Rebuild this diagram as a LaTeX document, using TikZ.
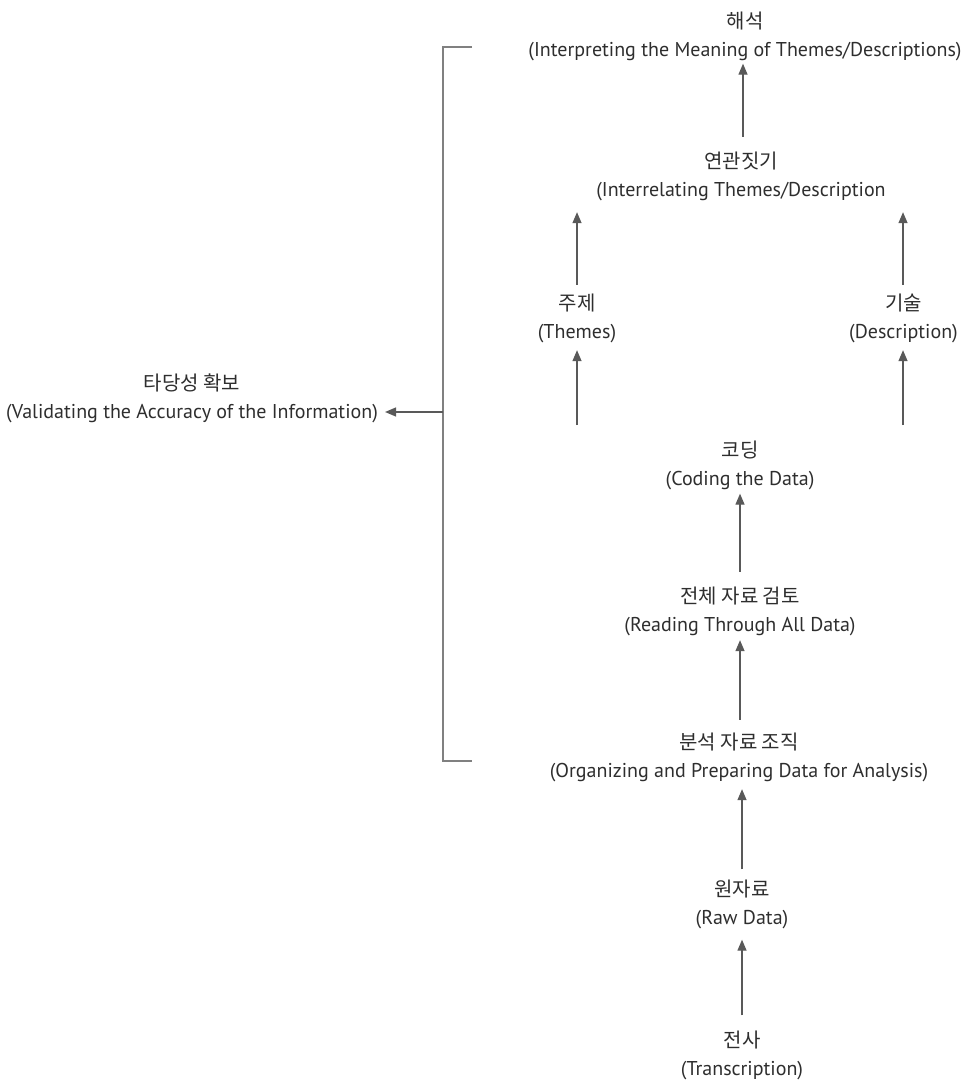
\documentclass[tikz,border=0pt]{standalone}
\usepackage{fontspec}
\setmainfont{PT Sans}
\newfontfamily\kr{Noto Sans CJK KR}
\usetikzlibrary{arrows.meta}
\begin{document}
\begin{tikzpicture}[x=1pt,y=-1pt,
  lbl/.style={align=center, inner sep=0pt, text=black!82,
    font=\fontsize{20}{28}\selectfont},
  arr/.style={draw=black!65, line width=1.3pt,
    -{Triangle[length=11pt,width=9pt]}},
  brk/.style={draw=black!50, line width=1.8pt}]
\useasboundingbox (0,0) rectangle (970,1083);

% stages of the analysis, bottom to top
\node[lbl] (trans)  at (742,1055)  {{\kr 전사}\\(Transcription)};
\node[lbl] (raw)    at (742,904)   {{\kr 원자료}\\(Raw Data)};
\node[lbl] (org)    at (739,757.5) {{\kr 분석 자료 조직}\\(Organizing and Preparing Data for Analysis)};
\node[lbl] (read)   at (740,611.5) {{\kr 전체 자료 검토}\\(Reading Through All Data)};
\node[lbl] (coding) at (740,465)   {{\kr 코딩}\\(Coding the Data)};
\node[lbl] (themes) at (577,318.5) {{\kr 주제}\\(Themes)};
\node[lbl] (desc)   at (903.5,318.5) {{\kr 기술}\\(Description)};
\node[lbl] (relate) at (741,176.5) {{\kr 연관짓기}\\(Interrelating Themes/Description};
\node[lbl] (interp) at (745,36)  {{\kr 해석}\\(Interpreting the Meaning of Themes/Descriptions)};
\node[lbl] (valid)  at (192,398)   {{\kr 타당성 확보}\\(Validating the Accuracy of the Information)};

% upward flow
\draw[arr, shorten <=15pt, shorten >=11pt] (trans.north) -- (trans.north |- raw.south);
\draw[arr, shorten <=10pt, shorten >=7pt]  (raw.north) -- (raw.north |- org.south);
\draw[arr, shorten <=13pt, shorten >=4pt]  (org.north -| read.south) -- (read.south);
\draw[arr, shorten <=15pt, shorten >=4pt]  (read.north -| coding.south) -- (coding.south);

\coordinate (splitL) at (577,425);
\coordinate (splitR) at (903,425);
\draw[arr, shorten >=7pt] (splitL) -- (splitL |- themes.south);
\draw[arr, shorten >=7pt] (splitR) -- (splitR |- desc.south);

\draw[arr, shorten <=9pt, shorten >=11pt] (themes.north) -- (themes.north |- relate.south);
\draw[arr, shorten <=9pt, shorten >=11pt] (desc.north -| splitR) -- (splitR |- relate.south);
\draw[arr, shorten <=15pt, shorten >=3pt] (relate.north -| 743,0) -- (interp.south -| 743,0);

% bracket spanning the analysis steps, pointing to validation
\draw[brk] (472,47) -- (443,47) -- (443,761) -- (472,761);
\coordinate (brmid) at (443,412);
\draw[arr, shorten >=7pt] (brmid) -- (brmid -| valid.east);
\end{tikzpicture}
\end{document}
